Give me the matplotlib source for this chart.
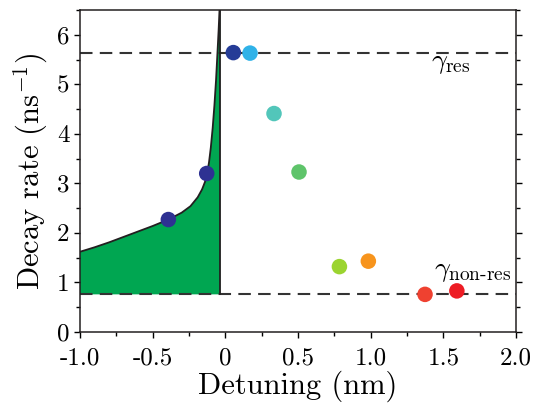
import matplotlib
matplotlib.use("Agg")
import matplotlib.pyplot as plt
import numpy as np

# ---- data ----
curve_x = [-1.0, -0.90, -0.80, -0.70, -0.60, -0.50, -0.392, -0.30, -0.24,
           -0.19, -0.16, -0.14, -0.125, -0.112, -0.100, -0.087, -0.075,
           -0.064, -0.054, -0.046, -0.040]
curve_y = [1.62, 1.71, 1.81, 1.92, 2.03, 2.14, 2.27, 2.41, 2.54,
           2.72, 2.88, 3.03, 3.20, 3.43, 3.72, 4.12, 4.58,
           5.08, 5.64, 6.10, 6.50]
edge_x = -0.035
gamma_res = 5.64
gamma_nonres = 0.76

pts_x = [-0.392, -0.128, 0.055, 0.170, 0.335, 0.507, 0.785, 0.984, 1.374, 1.593]
pts_y = [2.27, 3.20, 5.64, 5.63, 4.41, 3.23, 1.32, 1.43, 0.76, 0.83]
pts_c = ['#2e3192', '#2e3192', '#253c97', '#2fb2e8', '#52c6ba', '#5ec46a',
         '#9bd430', '#f7941d', '#ef4130', '#ed1c24']

xticks = [-1.0, -0.5, 0.0, 0.5, 1.0, 1.5, 2.0]
xticklabels = ['-1.0', '-0.5', '0', '0.5', '1.0', '1.5', '2.0']
yticks = [0, 1, 2, 3, 4, 5, 6]
yticklabels = ['0', '1', '2', '3', '4', '5', '6']

plt.rcParams['font.family'] = 'serif'
plt.rcParams['font.serif'] = ['cmr10', 'DejaVu Serif']
plt.rcParams['mathtext.fontset'] = 'cm'
plt.rcParams['axes.unicode_minus'] = False

fig = plt.figure(figsize=(5.35, 4.05), dpi=100)
ax = fig.add_axes([0.1495, 0.1802, 0.8150, 0.7951])

ymax = 6.5
# filled region
poly_x = list(curve_x) + [edge_x, edge_x, curve_x[0]]
poly_y = list(curve_y) + [ymax, gamma_nonres, gamma_nonres]
ax.fill(poly_x, poly_y, color='#00a651', lw=0, zorder=1)
ax.plot(curve_x, curve_y, color='#231f20', lw=1.3, zorder=2, solid_joinstyle='round')
ax.plot([edge_x, edge_x], [gamma_nonres, ymax], color='#231f20', lw=1.3, zorder=2)

ax.axhline(gamma_res, color='#333333', lw=1.5, dashes=(6, 3.5), zorder=1.5)
ax.axhline(gamma_nonres, color='#333333', lw=1.5, dashes=(6, 3.5), zorder=1.5)

ax.scatter(pts_x, pts_y, s=125, c=pts_c, edgecolors='none', zorder=3)

ax.text(1.55, 5.44, r'$\gamma_{\rm res}$', fontsize=20, ha='center', va='center')
ax.text(1.70, 1.24, r'$\gamma_{\rm non\text{-}res}$', fontsize=20, ha='center', va='center')

ax.set_xlim(-1.0, 2.0)
ax.set_ylim(0, ymax)
ax.set_xticks(xticks)
ax.set_xticklabels(xticklabels)
ax.set_yticks(yticks)
ax.set_yticklabels(yticklabels)
ax.set_xticks(np.arange(-1.0, 2.01, 0.25), minor=True)
ax.set_yticks(np.arange(0, 6.51, 0.5), minor=True)
ax.tick_params(axis='both', which='major', labelsize=18, direction='out', length=4, width=1)
ax.tick_params(axis='both', which='minor', direction='out', length=3, width=1)
ax.tick_params(axis='x', which='major', pad=7)
ax.tick_params(axis='y', which='both', right=True, labelright=False)
for s in ax.spines.values():
    s.set_linewidth(1.1)
    s.set_color('#231f20')

ax.set_xlabel('Detuning (nm)', fontsize=22, labelpad=1)
ax.set_ylabel(r'Decay rate (ns$^{-1}$)', fontsize=22, labelpad=5)

fig.savefig('out.png', dpi=100)
